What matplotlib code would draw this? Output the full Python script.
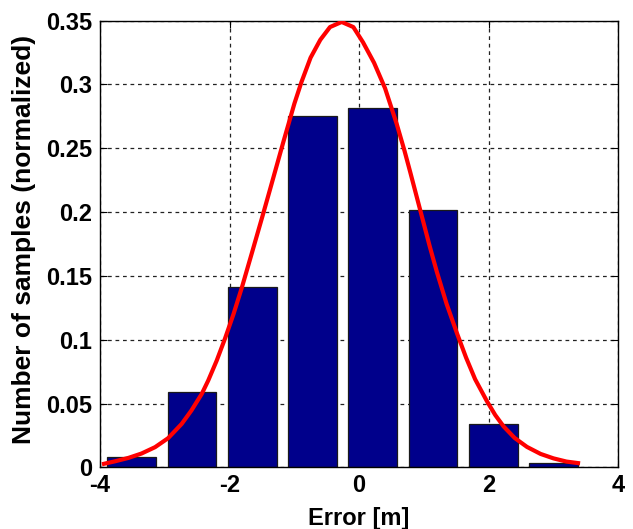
import matplotlib
matplotlib.use("Agg")
import matplotlib.pyplot as plt

# Histogram bins (centres) and normalised counts
bin_centers = [-3.51, -2.58, -1.65, -0.72, 0.21, 1.14, 2.07, 3.00]
bin_heights = [0.008, 0.059, 0.1415, 0.2753, 0.2818, 0.2016, 0.0342, 0.003]
bar_width = 0.75

# Fitted curve, points
curve_x = [-3.97, -3.77, -3.56, -3.36, -3.15, -2.95, -2.74, -2.59, -2.43, -2.33,
           -2.20, -2.07, -1.94, -1.81, -1.65, -1.48, -1.38, -1.17, -1.00, -0.89,
           -0.75, -0.60, -0.45, -0.27, -0.09, 0.06, 0.23, 0.40, 0.58, 0.70,
           0.79, 0.94, 1.09, 1.20, 1.35, 1.51, 1.65, 1.79, 1.97, 2.10,
           2.23, 2.40, 2.59, 2.80, 3.00, 3.20, 3.41]
curve_y = [0.0024, 0.0047, 0.0074, 0.0108, 0.0158, 0.0228, 0.0340, 0.0445, 0.0575, 0.0680,
           0.0835, 0.101, 0.120, 0.141, 0.169, 0.199, 0.217, 0.255, 0.285, 0.302,
           0.321, 0.335, 0.345, 0.349, 0.345, 0.333, 0.317, 0.297, 0.269, 0.248,
           0.231, 0.202, 0.173, 0.153, 0.128, 0.105, 0.086, 0.069, 0.052, 0.041,
           0.032, 0.023, 0.016, 0.0105, 0.007, 0.0045, 0.0031]

x_ticks = [-4, -2, 0, 2, 4]
y_ticks = [0, 0.05, 0.1, 0.15, 0.2, 0.25, 0.3, 0.35]
y_tick_labels = ["0", "0.05", "0.1", "0.15", "0.2", "0.25", "0.3", "0.35"]

plt.rcParams['font.family'] = ['Liberation Sans', 'DejaVu Sans']
plt.rcParams['font.weight'] = 'bold'

fig = plt.figure(figsize=(6.33, 5.29), dpi=100)
ax = fig.add_axes([0.158, 0.1166, 0.8188, 0.8443])

ax.set_axisbelow(True)
ax.grid(True, color='#222222', linestyle=(0, (3, 3)), linewidth=0.9)

ax.bar(bin_centers, bin_heights, width=bar_width, color='#00008B',
       edgecolor='#1a1a1a', linewidth=0.9, zorder=2)
ax.plot(curve_x, curve_y, color='#FF0000', linewidth=3.0,
        solid_joinstyle='round', solid_capstyle='butt', zorder=3)

ax.set_xlim(-4, 4)
ax.set_ylim(0, 0.35)
ax.set_xticks(x_ticks)
ax.set_xticklabels([str(t) for t in x_ticks])
ax.set_yticks(y_ticks)
ax.set_yticklabels(y_tick_labels)

ax.tick_params(direction='in', length=5, width=0.8, top=True, right=True,
               labelsize=17, colors='black')
ax.tick_params(axis='x', pad=5)
ax.tick_params(axis='y', pad=5.5)
for s in ax.spines.values():
    s.set_linewidth(1.0)
    s.set_color('black')

ax.set_xlabel('Error [m]', fontsize=17, fontweight='bold')
ax.set_ylabel('Number of samples (normalized)', fontsize=19, fontweight='bold')
ax.xaxis.set_label_coords(0.5, -0.088)
ax.yaxis.set_label_coords(-0.124, 0.511)

fig.savefig('out.png', dpi=100)
